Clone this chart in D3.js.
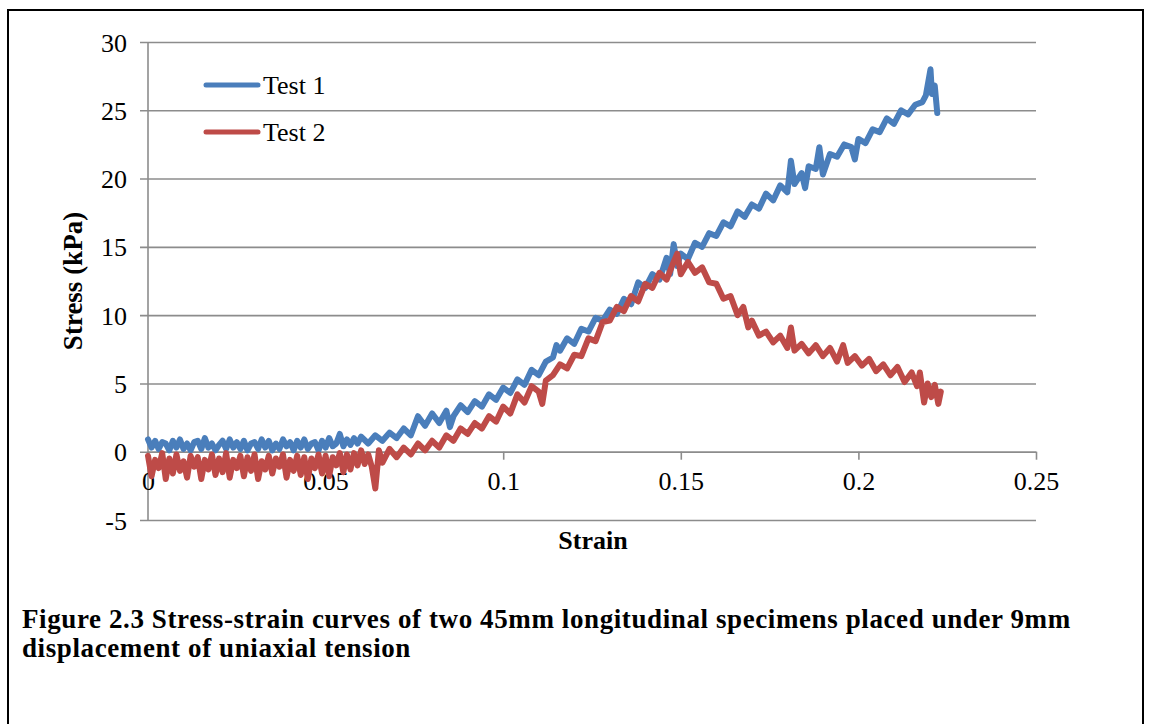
<!DOCTYPE html>
<html>
<head>
<meta charset="utf-8">
<script src="https://cdn.jsdelivr.net/npm/d3@7"></script>
<style>
  body { margin: 0; background: #fff; }
  svg { display: block; }
</style>
</head>
<body>
<svg class="chartContainer" width="1152" height="724"></svg>
<script>
// ticks and labels
const xTicks = [0, 0.05, 0.1, 0.15, 0.2, 0.25]
const yTicks = [-5, 0, 5, 10, 15, 20, 25, 30]
const seriesNames = ['Test 1', 'Test 2']
const xAxisLabel = 'Strain'
const yAxisLabel = 'Stress (kPa)'
const caption = [
  'Figure 2.3 Stress-strain curves of two 45mm longitudinal specimens placed under 9mm',
  'displacement of uniaxial tension'
]

// Test 1 [strain, stress kPa]
const test1 = [
  [0.000, 0.9], [0.001, 0.3], [0.002, 0.8], [0.003, 0.2], [0.004, 0.7], [0.005, 0.6],
  [0.006, 0.1], [0.007, 0.8], [0.008, 0.3], [0.009, 0.9], [0.010, 0.2], [0.011, 0.6],
  [0.012, 0.1], [0.013, 0.7], [0.014, 0.8], [0.015, 0.2], [0.016, 1.0], [0.017, 0.3],
  [0.018, 0.6], [0.019, 0.1], [0.020, 0.5], [0.021, 0.8], [0.022, 0.2], [0.023, 0.9],
  [0.024, 0.3], [0.025, 0.7], [0.026, 0.2], [0.027, 0.8], [0.028, 0.1], [0.029, 0.6],
  [0.030, 0.7], [0.031, 0.2], [0.032, 0.9], [0.033, 0.3], [0.034, 0.8], [0.035, 0.1],
  [0.036, 0.6], [0.037, 0.2], [0.038, 0.9], [0.039, 0.4], [0.040, 0.7], [0.041, 0.1],
  [0.042, 0.8], [0.043, 0.3], [0.044, 0.9], [0.045, 0.2], [0.046, 0.6], [0.047, 0.7],
  [0.048, 0.1], [0.049, 0.8], [0.050, 0.3], [0.051, 1.0], [0.052, 0.4], [0.053, 0.6],
  [0.054, 1.3], [0.055, 0.4], [0.056, 0.9], [0.057, 0.5], [0.058, 1.0], [0.059, 0.6],
  [0.060, 1.1], [0.062, 0.6], [0.064, 1.2], [0.066, 0.8], [0.068, 1.4], [0.070, 1.0],
  [0.072, 1.7], [0.074, 1.2], [0.076, 2.6], [0.078, 1.9], [0.080, 2.8], [0.082, 2.1],
  [0.084, 3.0], [0.085, 1.8], [0.086, 2.6], [0.088, 3.4], [0.090, 2.9], [0.092, 3.7],
  [0.094, 3.3], [0.096, 4.2], [0.098, 3.8], [0.100, 4.7], [0.102, 4.3], [0.104, 5.3],
  [0.106, 4.9], [0.108, 6.0], [0.110, 5.6], [0.112, 6.6], [0.114, 6.9], [0.115, 7.8],
  [0.116, 7.4], [0.118, 8.3], [0.120, 7.9], [0.122, 9.0], [0.124, 8.8], [0.126, 9.8],
  [0.128, 9.6], [0.130, 10.4], [0.132, 10.1], [0.134, 11.2], [0.136, 10.8], [0.138, 12.4],
  [0.140, 12.0], [0.142, 13.0], [0.144, 12.6], [0.146, 14.2], [0.147, 13.0], [0.148, 15.2],
  [0.149, 13.6], [0.150, 14.5], [0.152, 14.1], [0.154, 15.3], [0.156, 15.0], [0.158, 16.0],
  [0.160, 15.8], [0.162, 16.8], [0.164, 16.5], [0.166, 17.6], [0.168, 17.2], [0.170, 18.1],
  [0.172, 17.8], [0.174, 18.9], [0.176, 18.4], [0.178, 19.5], [0.180, 19.0], [0.181, 21.3],
  [0.182, 19.6], [0.184, 20.4], [0.185, 19.3], [0.186, 20.9], [0.188, 20.7], [0.189, 22.3],
  [0.190, 20.3], [0.192, 21.8], [0.194, 21.6], [0.196, 22.5], [0.198, 22.3], [0.199, 21.4],
  [0.200, 22.9], [0.202, 22.6], [0.204, 23.6], [0.206, 23.4], [0.208, 24.4], [0.210, 24.0],
  [0.212, 25.0], [0.214, 24.7], [0.216, 25.4], [0.218, 25.6], [0.219, 26.1], [0.2203, 28.0],
  [0.2207, 26.2], [0.2215, 26.8], [0.2222, 24.8]
]

// Test 2 [strain, stress kPa]
const test2 = [
  [0.000, -0.3], [0.001, -1.8], [0.002, -0.6], [0.003, -1.2], [0.004, -0.1], [0.005, -2.0],
  [0.006, -0.5], [0.007, -1.6], [0.008, -0.2], [0.009, -1.4], [0.010, -0.7], [0.011, -1.9],
  [0.012, -0.3], [0.013, -1.1], [0.014, -0.4], [0.015, -2.0], [0.016, -0.6], [0.017, -1.3],
  [0.018, -0.2], [0.019, -1.7], [0.020, -0.5], [0.021, -1.5], [0.022, -0.1], [0.023, -1.9],
  [0.024, -0.6], [0.025, -1.2], [0.026, -0.3], [0.027, -1.8], [0.028, -0.4], [0.029, -1.4],
  [0.030, -0.2], [0.031, -2.0], [0.032, -0.7], [0.033, -1.3], [0.034, -0.3], [0.035, -1.6],
  [0.036, -0.5], [0.037, -1.1], [0.038, -0.2], [0.039, -1.9], [0.040, -0.6], [0.041, -1.4],
  [0.042, -0.3], [0.043, -1.7], [0.044, -0.4], [0.045, -2.0], [0.046, -0.5], [0.047, -1.2],
  [0.048, -0.2], [0.049, -1.6], [0.050, -0.3], [0.051, -1.8], [0.052, -0.4], [0.053, -1.0],
  [0.054, -0.1], [0.055, -1.5], [0.056, -0.2], [0.057, -1.3], [0.058, -0.1], [0.059, -1.0],
  [0.060, 0.1], [0.061, -0.9], [0.062, -0.2], [0.063, -1.1], [0.064, -2.7], [0.065, 0.1],
  [0.066, -0.8], [0.068, 0.2], [0.070, -0.4], [0.072, 0.3], [0.074, -0.2], [0.076, 0.6],
  [0.078, 0.1], [0.080, 0.8], [0.082, 0.3], [0.084, 1.2], [0.086, 0.8], [0.088, 1.7],
  [0.090, 1.3], [0.092, 2.1], [0.094, 1.7], [0.096, 2.6], [0.098, 2.2], [0.100, 3.3],
  [0.102, 2.8], [0.104, 4.2], [0.106, 3.6], [0.108, 4.8], [0.110, 4.4], [0.111, 3.5],
  [0.112, 5.2], [0.114, 5.6], [0.116, 6.4], [0.118, 6.1], [0.120, 7.1], [0.122, 7.0],
  [0.124, 8.3], [0.126, 8.1], [0.128, 9.5], [0.130, 9.6], [0.132, 10.6], [0.134, 10.3],
  [0.136, 11.4], [0.138, 11.0], [0.140, 12.3], [0.142, 12.0], [0.144, 13.1], [0.146, 12.6],
  [0.148, 13.9], [0.149, 14.5], [0.150, 13.0], [0.152, 13.9], [0.154, 13.1], [0.156, 13.5],
  [0.158, 12.4], [0.160, 12.3], [0.162, 11.2], [0.164, 11.4], [0.166, 10.0], [0.1676, 10.6],
  [0.169, 9.1], [0.170, 9.6], [0.172, 8.5], [0.174, 8.8], [0.176, 8.0], [0.178, 8.5],
  [0.180, 7.6], [0.181, 9.1], [0.182, 7.4], [0.184, 7.9], [0.186, 7.2], [0.188, 7.8],
  [0.190, 7.0], [0.192, 7.6], [0.194, 6.6], [0.1957, 7.8], [0.197, 6.5], [0.199, 7.0],
  [0.201, 6.3], [0.203, 6.8], [0.205, 5.9], [0.207, 6.4], [0.209, 5.6], [0.211, 6.2],
  [0.213, 5.1], [0.215, 5.8], [0.2165, 4.8], [0.2173, 5.8], [0.2185, 3.6], [0.2195, 5.0],
  [0.2205, 4.0], [0.2215, 4.9], [0.2225, 3.5], [0.2232, 4.4]
]

const colors = ['#4a7ebb', '#be4b48']
const serif = "'Liberation Serif', 'DejaVu Serif', serif"
const gridColor = '#8c8c8c'

const margin = { top: 42, left: 148 }
const innerWidth = 888
const innerHeight = 478

const svg = d3.select('svg.chartContainer')

// outer frame (bottom edge runs off the page)
svg.append('path')
  .attr('d', 'M8,724V10H1143V724')
  .attr('fill', 'none')
  .attr('stroke', '#000')
  .attr('stroke-width', 2)

const g = svg.append('g')
  .attr('transform', `translate(${margin.left},${margin.top})`)

const x = d3.scaleLinear().domain([0, 0.25]).range([0, innerWidth])
const y = d3.scaleLinear().domain([-5, 30]).range([innerHeight, 0])

// horizontal gridlines + y tick labels
const yAxisG = g.append('g')
  .call(d3.axisLeft(y).tickValues(yTicks).tickSize(-innerWidth).tickSizeOuter(0).tickFormat(d => String(d)))
  .attr('font-family', serif)
  .attr('font-size', 26)
yAxisG.select('.domain').remove()
yAxisG.selectAll('.tick line')
  .attr('x1', -8)
  .attr('stroke', gridColor)
  .attr('stroke-width', 1.6)
yAxisG.selectAll('.tick text')
  .attr('x', -21)
  .attr('dy', '0.35em')
  .attr('fill', '#000')

g.append('line')
  .attr('x1', 0).attr('x2', 0)
  .attr('y1', 0).attr('y2', innerHeight)
  .attr('stroke', gridColor)
  .attr('stroke-width', 1.6)

// x axis sits on the zero line
const xAxisG = g.append('g')
  .attr('transform', `translate(0,${y(0)})`)
  .call(d3.axisBottom(x).tickValues(xTicks).tickSize(8).tickSizeOuter(0).tickFormat(d => String(d)))
  .attr('font-family', serif)
  .attr('font-size', 26)
xAxisG.select('.domain').attr('stroke', gridColor).attr('stroke-width', 1.6)
xAxisG.selectAll('.tick line').attr('stroke', gridColor).attr('stroke-width', 1.6)
xAxisG.selectAll('.tick text')
  .attr('y', 20)
  .attr('dy', '0.71em')
  .attr('fill', '#000')

// series
const line = d3.line().x(d => x(d[0])).y(d => y(d[1]))
;[test1, test2].forEach((data, i) => {
  g.append('path')
    .datum(data)
    .attr('fill', 'none')
    .attr('stroke', colors[i])
    .attr('stroke-width', 6)
    .attr('stroke-linejoin', 'round')
    .attr('stroke-linecap', 'round')
    .attr('d', line)
})

// legend
const legend = svg.append('g').attr('transform', 'translate(206,85)')
seriesNames.forEach((name, i) => {
  const row = legend.append('g').attr('transform', `translate(0,${i * 47})`)
  row.append('line')
    .attr('x1', 0).attr('x2', 52)
    .attr('stroke', colors[i])
    .attr('stroke-width', 5)
    .attr('stroke-linecap', 'round')
  row.append('text')
    .attr('x', 57)
    .attr('dy', '0.35em')
    .attr('font-family', serif)
    .attr('font-size', 26)
    .text(name)
})

// axis titles
svg.append('text')
  .attr('x', 593)
  .attr('y', 549)
  .attr('text-anchor', 'middle')
  .attr('font-family', serif)
  .attr('font-size', 26)
  .attr('font-weight', 'bold')
  .text(xAxisLabel)

svg.append('text')
  .attr('transform', 'translate(82,281) rotate(-90)')
  .attr('text-anchor', 'middle')
  .attr('font-family', serif)
  .attr('font-size', 27)
  .attr('font-weight', 'bold')
  .text(yAxisLabel)

// caption: Cambria runs wider than the serif we have, so open the letters up a touch
const captionTexts = caption.map((t, i) => svg.append('text')
  .attr('x', 22)
  .attr('y', 628 + i * 29)
  .attr('font-family', serif)
  .attr('font-size', 27)
  .attr('font-weight', 'bold')
  .text(t))
const w = captionTexts[0].node().getComputedTextLength()
const spacing = Math.max(0, Math.min(0.6, (1068 - w) / caption[0].length))
captionTexts.forEach(t => t.attr('letter-spacing', spacing))
</script>
</body>
</html>
